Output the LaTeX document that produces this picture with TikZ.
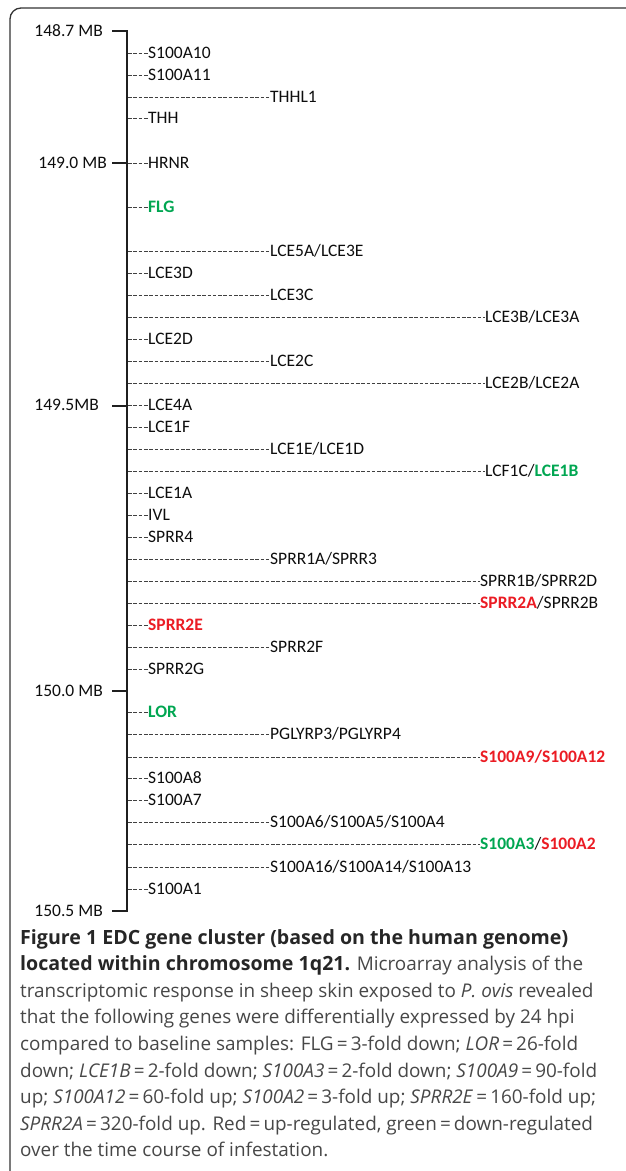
\documentclass[tikz,border=0pt]{standalone}
\usepackage{fontspec}
\setmainfont{Carlito}
\newfontfamily\capfont{Open Sans}
\definecolor{upred}{RGB}{235,28,36}
\definecolor{downgreen}{RGB}{0,166,81}
\newcommand\upreg[1]{\textcolor{upred}{\textbf{#1}}}
\newcommand\downreg[1]{\textcolor{downgreen}{\textbf{#1}}}
\newcommand\caphead[1]{{\fontsize{19.6}{24}\selectfont\color{black!85}\textbf{#1}}}

\begin{document}
\begin{tikzpicture}[x=1pt,y=-1pt,
  frame/.style={line width=1.3pt, black!80, rounded corners=11pt},
  axis/.style={line width=1.7pt, black!88},
  link/.style={line width=0.8pt, black!75, dash pattern=on 3.6pt off 1.7pt},
  gene/.style={anchor=west, inner sep=0pt, text height=11.3pt, text depth=0pt,
    font=\fontsize{17.5}{20}\selectfont, text=black!95},
  mb/.style={anchor=east, inner sep=0pt, text height=11.3pt, text depth=0pt,
    font=\fontsize{17.5}{20}\selectfont, text=black!95},
  capline/.style={anchor=base west, inner sep=0pt,
    font=\capfont\fontsize{18.9}{24}\selectfont, text=black!72}]

\useasboundingbox (0,0) rectangle (625,1171);

% open frame: left and top edges only
\draw[frame] (10,1172) -- (10,8) -- (626,8);

% position labels on the chromosome axis
\node[mb] (mb1) at (103,31)  {148.7 MB};
\node[mb] (mb2) at (107,163) {149.0 MB};
\node[mb] (mb3) at (99,405)  {149.5MB};
\node[mb] (mb4) at (103,691) {150.0 MB};
\node[mb] (mb5) at (103,911) {150.5 MB};

\coordinate (top) at (127,31);
\coordinate (bot) at (127,911);
\draw[axis] (112,31) -- (top) -- (bot) -- (112,911);
\foreach \k/\y in {2/163,3/406,4/691}
  \draw[axis] (112,\y) -- (127,\y);

% genes, ordered along the cluster
\foreach \n/\y/\x/\t in {
  s100a10/53/148/S100A10,
  s100a11/75/148/S100A11,
  thhl1/97/270/THHL1,
  thh/118/148/THH,
  hrnr/163/148/HRNR,
  flg/207/148/{\downreg{FLG}},
  lce5a/251/270/{LCE5A/LCE3E},
  lce3d/273/148/LCE3D,
  lce3c/295/270/LCE3C,
  lce3b/317/485/{LCE3B/LCE3A},
  lce2d/339/148/LCE2D,
  lce2c/361/270/LCE2C,
  lce2b/383/485/{LCE2B/LCE2A},
  lce4a/405/148/LCE4A,
  lce1f/427/148/LCE1F,
  lce1e/449/270/{LCE1E/LCE1D},
  lcf1c/471/485/{LCF1C/\downreg{LCE1B}},
  lce1a/493/148/LCE1A,
  ivl/515/148/IVL,
  sprr4/537/148/SPRR4,
  sprr1a/559/270/{SPRR1A/SPRR3},
  sprr1b/581/480/{SPRR1B/SPRR2D},
  sprr2a/603/480/{\upreg{SPRR2A}/SPRR2B},
  sprr2e/625/148/{\upreg{SPRR2E}},
  sprr2f/647/270/SPRR2F,
  sprr2g/669/148/SPRR2G,
  lor/712/148/{\downreg{LOR}},
  pglyrp/734/270/{PGLYRP3/PGLYRP4},
  s100a9/757/480/{\upreg{S100A9/S100A12}},
  s100a8/778/148/S100A8,
  s100a7/800/148/S100A7,
  s100a6/822/270/{S100A6/S100A5/S100A4},
  s100a3/844/480/{\downreg{S100A3}/\upreg{S100A2}},
  s100a16/867/270/{S100A16/S100A14/S100A13},
  s100a1/889/148/S100A1}
{
  \coordinate (ax-\n) at (128,\y);
  \node[gene] (\n) at (\x,\y) {\t};
  \draw[link] (ax-\n) -- (\n.west);
}

% caption
\node[capline] (cap1) at (20,944) {\caphead{Figure 1 EDC gene cluster (based on the human genome)}};
\node[capline] (cap2) at (20,970.6) {\caphead{located within chromosome 1q21.} Microarray analysis of the};
\node[capline] (cap3) at (20,997.2) {transcriptomic response in sheep skin exposed to \textit{P. ovis} revealed};
\node[capline] (cap4) at (20,1023.8) {that the following genes were differentially expressed by 24 hpi};
\node[capline] (cap5) at (20,1050.4) {compared to baseline samples: FLG\,=\,3-fold down; \textit{LOR}\,=\,26-fold};
\node[capline] (cap6) at (20,1077) {down; \textit{LCE1B}\,=\,2-fold down; \textit{S100A3}\,=\,2-fold down; \textit{S100A9}\,=\,90-fold};
\node[capline] (cap7) at (20,1103.6) {up; \textit{S100A12}\,=\,60-fold up; \textit{S100A2}\,=\,3-fold up; \textit{SPRR2E}\,=\,160-fold up;};
\node[capline] (cap8) at (20,1130.2) {\textit{SPRR2A}\,=\,320-fold up. Red\,=\,up-regulated, green\,=\,down-regulated};
\node[capline] (cap9) at (20,1156.8) {over the time course of infestation.};
\end{tikzpicture}
\end{document}
